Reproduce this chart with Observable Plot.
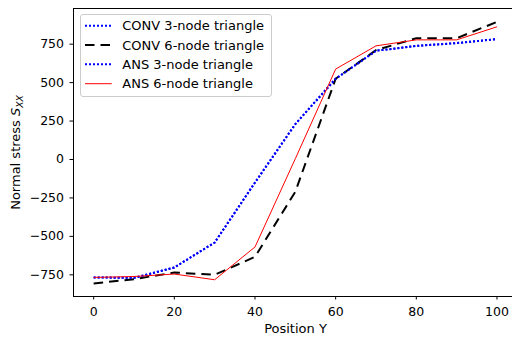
<!DOCTYPE html>
<html>
<head>
<meta charset="utf-8">
<script src="https://cdn.jsdelivr.net/npm/d3@7"></script>
<script src="https://cdn.jsdelivr.net/npm/@observablehq/plot@0.6"></script>
<style>
  html, body { margin: 0; padding: 0; background: white; }
  #wrap { position: relative; width: 512px; height: 338px; overflow: hidden; }
  #legend { position: absolute; left: 80px; top: 14px; }
</style>
</head>
<body>
<div id="wrap"></div>
<script>
// ---- data ----
const positions = [0, 10, 20, 30, 40, 50, 60, 70, 80, 90, 100];
const conv3 = [-767, -770, -702, -540, -150, 230, 525, 707, 739, 757, 783];
const conv6 = [-806, -778, -735, -750, -633, -210, 525, 711, 789, 789, 895];
const ans3  = [-767, -770, -702, -540, -150, 230, 525, 707, 739, 757, 783];
const ans6  = [-767, -761, -745, -782, -569, 5, 588, 739, 778, 778, 863];
const seriesNames = ["CONV 3-node triangle", "CONV 6-node triangle", "ANS 3-node triangle", "ANS 6-node triangle"];
const xTicks = [0, 20, 40, 60, 80, 100];
const yTicks = [-750, -500, -250, 0, 250, 500, 750];
const xLabel = "Position Y";

// ---- styles ----
const styles = [
  {stroke: "#0000ff", strokeWidth: 2, strokeDasharray: "2,2"},
  {stroke: "#000000", strokeWidth: 2, strokeDasharray: "9.5,6"},
  {stroke: "#0000ff", strokeWidth: 2, strokeDasharray: "2,2"},
  {stroke: "#ff0000", strokeWidth: 1, strokeDasharray: null}
];
const series = [conv3, conv6, ans3, ans6];

const xDomain = [-5, 103.85];
const yDomain = [-891, 982];

const lineMarks = series.map((vals, k) => Plot.line(vals, {
  x: (d, i) => positions[i],
  y: d => d,
  stroke: styles[k].stroke,
  strokeWidth: styles[k].strokeWidth,
  strokeDasharray: styles[k].strokeDasharray,
  strokeLinecap: "butt",
  strokeLinejoin: "round"
}));

const chart = Plot.plot({
  width: 512,
  height: 338,
  marginLeft: 73,
  marginRight: 0,
  marginTop: 8,
  marginBottom: 42,
  style: {fontFamily: "DejaVu Sans", fontSize: "12.5px", color: "black", background: "white"},
  x: {domain: xDomain},
  y: {domain: yDomain},
  marks: [
    Plot.axisX({ticks: xTicks, tickSize: 3.5, tickPadding: 7, label: null}),
    Plot.axisY({ticks: yTicks, tickSize: 3.5, tickPadding: 6, label: null}),
    ...lineMarks,
    Plot.ruleX([xDomain[0]], {stroke: "black", strokeWidth: 1}),
    Plot.ruleY(yDomain, {stroke: "black", strokeWidth: 1}),
    Plot.text([xLabel], {text: d => d, frameAnchor: "bottom", lineAnchor: "middle", dy: 32.6, dx: 2.5, fontSize: 13})
  ]
});

document.getElementById("wrap").appendChild(chart);

// y-axis label with mathtext-like subscript
const svg = d3.select(chart);
const yl = svg.append("text")
  .attr("transform", "translate(20,152.5) rotate(-90)")
  .attr("text-anchor", "middle")
  .attr("font-family", "DejaVu Sans")
  .attr("font-size", 13)
  .attr("fill", "black");
yl.append("tspan").text("Normal stress ");
yl.append("tspan").attr("font-style", "italic").text("S");
yl.append("tspan").attr("font-style", "italic").attr("font-size", 9.2).attr("dy", 2.5).text("XX");

// legend
const leg = d3.select("#wrap").append("svg")
  .attr("id", "legend")
  .attr("width", 194)
  .attr("height", 86);
leg.append("rect")
  .attr("x", 0.5).attr("y", 0.5)
  .attr("width", 191).attr("height", 82)
  .attr("rx", 2.5)
  .attr("fill", "white").attr("fill-opacity", 0.8)
  .attr("stroke", "#cccccc").attr("stroke-width", 1);
const rowY = [11.7, 31, 50.3, 69.7];
seriesNames.forEach((name, k) => {
  leg.append("line")
    .attr("x1", 5).attr("x2", 31.7)
    .attr("y1", rowY[k]).attr("y2", rowY[k])
    .attr("stroke", styles[k].stroke)
    .attr("stroke-width", styles[k].strokeWidth)
    .attr("stroke-dasharray", styles[k].strokeDasharray)
    .attr("stroke-linecap", "butt");
  leg.append("text")
    .attr("x", 42.3).attr("y", rowY[k]).attr("dy", "0.36em")
    .attr("font-family", "DejaVu Sans").attr("font-size", 13)
    .attr("fill", "black")
    .text(name);
});
</script>
</body>
</html>
